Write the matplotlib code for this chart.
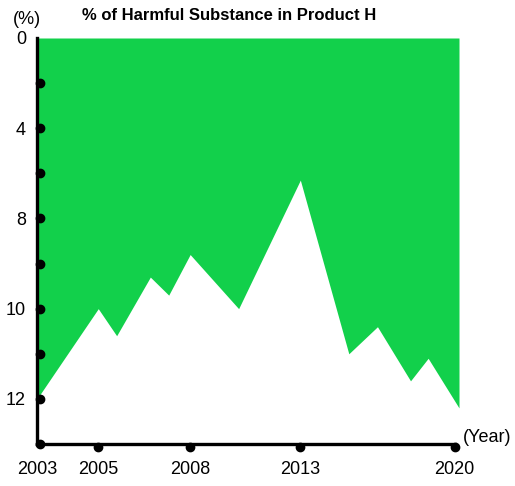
import numpy as np
import matplotlib.pyplot as plt
import matplotlib.transforms as mtransforms

# data (value = % of harmful substance, axis inverted)
years = [2003, 2005, 2005.6, 2006.7, 2007.3, 2008, 2010.2, 2013, 2015.2, 2016.5, 2018.0, 2018.8, 2020.2]
pct = [12.0, 10.0, 10.6, 9.3, 9.7, 8.8, 10.0, 6.3, 11.0, 10.4, 11.6, 11.1, 12.2]

year_ticks = [2003, 2005, 2008, 2013, 2020]
pct_ticks = [0, 4, 8, 10, 12]
pct_dots = [2, 4, 6, 8, 9, 10, 11, 12, 13]

green = '#12d04b'

# the chart's axes are not evenly spaced, so piecewise linear scales
xk_val, xk_pos = [1990, 2008, 2040], [-18 * 1.39, 0, 32]
yk_val, yk_pos = [-10, 8, 30], [-5, 4, 26]

def xf(v): return np.interp(v, xk_val, xk_pos)
def xi(p): return np.interp(p, xk_pos, xk_val)
def yf(v): return np.interp(v, yk_val, yk_pos)
def yi(p): return np.interp(p, yk_pos, yk_val)

plt.rcParams['font.family'] = ['Liberation Sans', 'DejaVu Sans']

fig = plt.figure(figsize=(5.15, 4.86), dpi=100)
ax = fig.add_axes([37 / 515, 42 / 486, 422 / 515, 406 / 486])
ax.set_xscale('function', functions=(xf, xi))
ax.set_yscale('function', functions=(yf, yi))

ax.fill_between(years, 0, pct, color=green, lw=0)

ax.set_xlim(2003, 2020.2)
ax.set_ylim(13, 0)

for s in ['top', 'right']:
    ax.spines[s].set_visible(False)
ax.spines['left'].set_linewidth(2.4)
ax.spines['bottom'].set_linewidth(2.4)
ax.spines['bottom'].set_bounds(2003, 2020)

ax.set_xticks(year_ticks)
ax.set_xticklabels([str(y) for y in year_ticks], fontsize=13)
ax.set_yticks(pct_ticks)
ax.set_yticklabels([str(p) for p in pct_ticks], fontsize=13)
ax.xaxis.set_minor_locator(plt.NullLocator())
ax.yaxis.set_minor_locator(plt.NullLocator())
ax.tick_params(axis='x', length=0, pad=12)
ax.tick_params(axis='y', length=0, pad=8)

# dot markers on the axes
off_r = mtransforms.ScaledTranslation(3 / 100, 0, fig.dpi_scale_trans)
off_d = mtransforms.ScaledTranslation(0, -3 / 100, fig.dpi_scale_trans)
ax.plot([2003] * len(pct_dots), pct_dots, 'o', color='black', ms=6,
        clip_on=False, transform=ax.transData + off_r, zorder=5)
ax.plot(year_ticks[1:], [13] * 4, 'o', color='black', ms=6,
        clip_on=False, transform=ax.transData + off_d, zorder=5)

fig.text(229 / 515, 1 - 15 / 486, '% of Harmful Substance in Product H',
         ha='center', va='center', fontsize=12, fontweight='bold')
fig.text(27 / 515, 1 - 19 / 486, '(%)', ha='center', va='center', fontsize=13)
fig.text(463 / 515, 1 - 437 / 486, '(Year)', ha='left', va='center', fontsize=13)

fig.savefig('out.png', dpi=100)
